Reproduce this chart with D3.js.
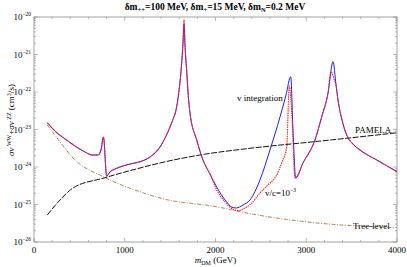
<!DOCTYPE html>
<html>
<head>
<meta charset="utf-8">
<script src="https://cdn.jsdelivr.net/npm/d3@7"></script>
<style>
  body { margin: 0; background: #fff; }
  text { font-family: "Liberation Serif", "DejaVu Serif", serif; }
</style>
</head>
<body>
<div id="chart"></div>
<script>
// values (mass in GeV, sigma v in cm^3/s)
const massBlue = [147, 231, 342, 452, 562, 639, 705, 738, 765, 801, 837, 911, 1058, 1168, 1278, 1388, 1455, 1532, 1565, 1600, 1625, 1642, 1653, 1665, 1683, 1700, 1719, 1793, 1862, 1939, 2013, 2105, 2193, 2226, 2303, 2380, 2490, 2600, 2711, 2777, 2829, 2854, 2884, 2964, 3096, 3170, 3240, 3295, 3328, 3350, 3394, 3446, 3515, 3592, 3776, 4000];
const sigmaBlue = [1.52e-23, 9.1e-24, 5.6e-24, 3.63e-24, 2.51e-24, 2.09e-24, 2.09e-24, 2.84e-24, 6.3e-24, 5.75e-25, 7.36e-25, 9.2e-25, 1.2e-24, 1.38e-24, 1.85e-24, 3.41e-24, 6.71e-24, 1.9e-23, 3.3e-23, 1.2e-22, 5e-22, 2e-21, 6.5e-21, 1.5e-21, 3.5e-22, 8e-23, 2.75e-23, 5.25e-24, 1.54e-24, 6.5e-25, 2.93e-25, 1.32e-25, 8.2e-26, 8.07e-26, 9.7e-26, 1.32e-25, 4.5e-25, 2.84e-24, 2.16e-23, 8.3e-23, 2.56e-22, 9.7e-24, 5.09e-25, 1.28e-24, 5.25e-24, 2.16e-23, 9.4e-23, 6.43e-22, 1.54e-22, 6.1e-23, 1.79e-23, 7.1e-24, 4.1e-24, 2.84e-24, 1.54e-24, 7.5e-25];

const massRed = [147, 231, 342, 452, 562, 639, 705, 738, 765, 801, 837, 911, 1058, 1168, 1278, 1388, 1455, 1532, 1565, 1600, 1625, 1642, 1653, 1665, 1683, 1700, 1719, 1793, 1862, 1939, 2013, 2105, 2171, 2248, 2325, 2402, 2490, 2578, 2674, 2733, 2785, 2813, 2843, 2876, 2964, 3096, 3170, 3240, 3273, 3306, 3328, 3350, 3394, 3446, 3515, 3592, 3776, 4000];
const sigmaRed = [1.52e-23, 9.1e-24, 5.6e-24, 3.63e-24, 2.51e-24, 2.09e-24, 2.09e-24, 2.84e-24, 6.3e-24, 5.75e-25, 7.36e-25, 9.2e-25, 1.2e-24, 1.38e-24, 1.85e-24, 3.41e-24, 6.71e-24, 1.9e-23, 3.3e-23, 1.2e-22, 5e-22, 2.3e-21, 8.7e-21, 1.7e-21, 3.5e-22, 8e-23, 2.75e-23, 5.25e-24, 1.54e-24, 6.5e-25, 2.44e-25, 1.17e-25, 8.07e-26, 6.84e-26, 8.07e-26, 1.1e-25, 2.03e-25, 3.31e-25, 6.12e-25, 1.36e-24, 3.47e-24, 1.45e-22, 2.16e-23, 5.09e-25, 1.28e-24, 5.25e-24, 2.16e-23, 9.4e-23, 3.47e-22, 2.2e-22, 1.54e-22, 6.1e-23, 1.79e-23, 7.1e-24, 4.1e-24, 2.84e-24, 1.54e-24, 7.5e-25];

const massPamela = [147, 286, 430, 771, 1168, 1388, 1829, 2380, 3151, 4000];
const sigmaPamela = [5.25e-26, 1.32e-25, 2.75e-25, 5.09e-25, 9.4e-25, 1.28e-24, 2.09e-24, 3.15e-24, 4.9e-24, 8.2e-24];

const massTree = [147, 286, 433, 771, 1278, 1388, 2013, 2380, 2931, 4000];
const sigmaTree = [1.32e-23, 4.7e-24, 1.7e-24, 5.4e-25, 1.79e-25, 1.49e-25, 8.7e-26, 5.7e-26, 3.6e-26, 2.4e-26];

const xTicks = [0, 1000, 2000, 3000, 4000];
const yExponents = [-20, -21, -22, -23, -24, -25, -26];

const W = 407, H = 267;
const margin = {left: 34, right: 397, top: 17, bottom: 242};

const svg = d3.select("#chart").append("svg")
    .attr("width", W)
    .attr("height", H);

const x = d3.scaleLinear().domain([0, 4000]).range([margin.left, margin.right]);
const y = d3.scaleLog().domain([1e-26, 1e-20]).range([margin.bottom, margin.top]);

const frameColor = "#8a8a8a";

// frame
svg.append("rect")
    .attr("x", margin.left).attr("y", margin.top)
    .attr("width", margin.right - margin.left).attr("height", margin.bottom - margin.top)
    .attr("fill", "none")
    .attr("stroke", frameColor)
    .attr("stroke-width", 0.8);

// x ticks (major + minor), bottom and top, inward
const xMinor = d3.range(0, 4001, 200);
xMinor.forEach(function (v) {
    const len = (v % 1000 === 0) ? 4 : 2;
    svg.append("line").attr("x1", x(v)).attr("x2", x(v)).attr("y1", margin.bottom).attr("y2", margin.bottom - len)
        .attr("stroke", frameColor).attr("stroke-width", 0.6);
    svg.append("line").attr("x1", x(v)).attr("x2", x(v)).attr("y1", margin.top).attr("y2", margin.top + len)
        .attr("stroke", frameColor).attr("stroke-width", 0.6);
});

// y ticks: decades and 2..9 minors, left and right
yExponents.forEach(function (e) {
    for (let m = 1; m <= 9; m++) {
        const v = m * Math.pow(10, e);
        if (v > 1e-20 * 1.0001) continue;
        const len = (m === 1) ? 4 : 2;
        svg.append("line").attr("x1", margin.left).attr("x2", margin.left + len).attr("y1", y(v)).attr("y2", y(v))
            .attr("stroke", frameColor).attr("stroke-width", 0.6);
        svg.append("line").attr("x1", margin.right).attr("x2", margin.right - len).attr("y1", y(v)).attr("y2", y(v))
            .attr("stroke", frameColor).attr("stroke-width", 0.6);
    }
});

// x tick labels
svg.selectAll(".xlab")
    .data(xTicks)
    .join("text")
    .attr("x", d => x(d))
    .attr("y", margin.bottom + 11)
    .attr("text-anchor", "middle")
    .style("font-size", "9px")
    .text(d => d);

// y tick labels 10^e
yExponents.forEach(function (e) {
    const t = svg.append("text")
        .attr("x", margin.left - 3)
        .attr("y", y(Math.pow(10, e)) + 3)
        .attr("text-anchor", "end")
        .style("font-size", "9px");
    t.append("tspan").text("10");
    t.append("tspan").attr("dy", -4).style("font-size", "5.5px").text("\u2212" + (-e));
});

// axis titles
const xt = svg.append("text")
    .attr("x", (margin.left + margin.right) / 2)
    .attr("y", 263)
    .attr("text-anchor", "middle")
    .style("font-size", "9px");
xt.append("tspan").style("font-style", "italic").text("m");
xt.append("tspan").attr("dy", 2).style("font-size", "6px").text("DM");
xt.append("tspan").attr("dy", -2).text(" (GeV)");

const yt = svg.append("text")
    .attr("transform", "translate(14," + 120 + ") rotate(-90)")
    .attr("text-anchor", "middle")
    .style("font-size", "9px");
yt.append("tspan").style("font-style", "italic").text("\u03c3v");
yt.append("tspan").attr("dy", -3).style("font-size", "6px").text(" WW");
yt.append("tspan").attr("dy", 3).text("+");
yt.append("tspan").style("font-style", "italic").text("\u03c3v");
yt.append("tspan").attr("dy", -3).style("font-size", "6px").text(" ZZ");
yt.append("tspan").attr("dy", 3).text(" (cm");
yt.append("tspan").attr("dy", -3).style("font-size", "6px").text("3");
yt.append("tspan").attr("dy", 3).text("/s)");

// title
const title = svg.append("text")
    .attr("x", 215)
    .attr("y", 10)
    .attr("text-anchor", "middle")
    .style("font-size", "9.5px")
    .style("font-weight", "bold");
[["\u03b4m", "++", "=100 MeV, "], ["\u03b4m", "+", "=15 MeV, "], ["\u03b4m", "N", "=0.2 MeV"]].forEach(function (p) {
    title.append("tspan").text(p[0]);
    title.append("tspan").attr("dy", 2).style("font-size", "6.5px").text(p[1]);
    title.append("tspan").attr("dy", -2).text(p[2]);
});

// curves
svg.append("clipPath").attr("id", "clip")
    .append("rect").attr("x", margin.left).attr("y", margin.top)
    .attr("width", margin.right - margin.left).attr("height", margin.bottom - margin.top);
const plot = svg.append("g").attr("clip-path", "url(#clip)");

function lineOf(ms, ss) {
    return d3.line()
        .curve(d3.curveMonotoneX)
        .x((d, i) => x(ms[i]))
        .y((d, i) => y(ss[i]))(ms);
}

plot.append("path")
    .attr("d", lineOf(massTree, sigmaTree))
    .attr("fill", "none")
    .attr("stroke", "#b5865a")
    .attr("stroke-width", 1)
    .attr("stroke-dasharray", "4,1.5,1,1.5");

plot.append("path")
    .attr("d", lineOf(massPamela, sigmaPamela))
    .attr("fill", "none")
    .attr("stroke", "#111")
    .attr("stroke-width", 1)
    .attr("stroke-dasharray", "6,1.5");

plot.append("path")
    .attr("d", lineOf(massBlue, sigmaBlue))
    .attr("fill", "none")
    .attr("stroke", "#1a1aff")
    .attr("stroke-width", 1);

plot.append("path")
    .attr("d", lineOf(massRed, sigmaRed))
    .attr("fill", "none")
    .attr("stroke", "#ff2020")
    .attr("stroke-width", 1.1)
    .attr("stroke-dasharray", "1.5,0.8");

// curve labels
svg.append("text").attr("x", 237).attr("y", 101).style("font-size", "9px").text("v integration");
const vc = svg.append("text").attr("x", 265).attr("y", 196).style("font-size", "9px");
vc.append("tspan").text("v/c=10");
vc.append("tspan").attr("dy", -4).style("font-size", "5.5px").text("\u22123");
svg.append("text").attr("x", 355).attr("y", 133).style("font-size", "9px").text("PAMELA");
svg.append("text").attr("x", 353).attr("y", 229).style("font-size", "9px").text("Tree-level");
</script>
</body>
</html>
